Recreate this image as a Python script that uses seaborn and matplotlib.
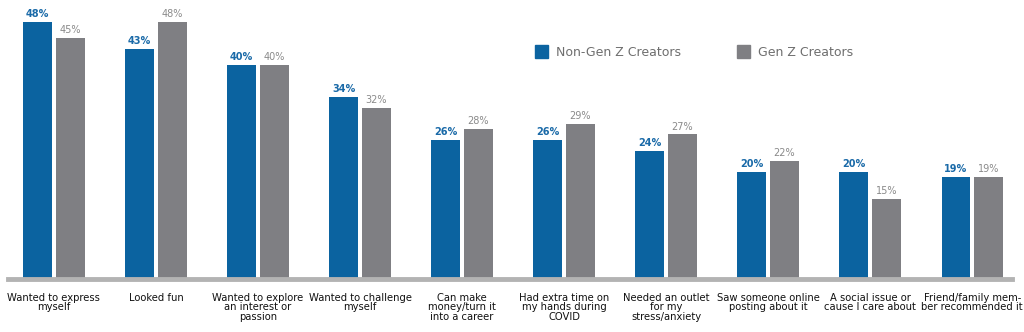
import matplotlib
matplotlib.use("Agg")
import matplotlib.pyplot as plt
import seaborn as sns
import pandas as pd
from matplotlib.patches import Rectangle

categories = [
    "Wanted to express\nmyself",
    "Looked fun",
    "Wanted to explore\nan interest or\npassion",
    "Wanted to challenge\nmyself",
    "Can make\nmoney/turn it\ninto a career",
    "Had extra time on\nmy hands during\nCOVID",
    "Needed an outlet\nfor my\nstress/anxiety",
    "Saw someone online\nposting about it",
    "A social issue or\ncause I care about",
    "Friend/family mem-\nber recommended it",
]
non_gen_z = [48, 43, 40, 34, 26, 26, 24, 20, 20, 19]
gen_z = [45, 48, 40, 32, 28, 29, 27, 22, 15, 19]
series = ["Non-Gen Z Creators", "Gen Z Creators"]

BLUE = "#0b63a0"
GRAY = "#7f7f83"

df = pd.DataFrame({
    "category": categories * 2,
    "value": non_gen_z + gen_z,
    "series": [series[0]] * len(categories) + [series[1]] * len(categories),
})

sns.set_theme(style="white")
plt.rcParams["font.family"] = ["DejaVu Sans"]

fig = plt.figure(figsize=(10.24, 3.32), dpi=100)
ax = fig.add_axes([8 / 1024, 1 - 279 / 332, (1012 - 8) / 1024, 279 / 332])

sns.barplot(data=df, x="category", y="value", hue="series", order=categories,
            hue_order=series, palette=[BLUE, GRAY], width=0.64, gap=0.12,
            saturation=1, legend=False, linewidth=0, ax=ax)

ax.set_xlim(-0.45, 9.39)
ax.set_ylim(0, 48 * 279 / 257)
ax.set_xlabel("")
ax.set_ylabel("")
ax.set_yticks([])
for s in ["top", "right", "left"]:
    ax.spines[s].set_visible(False)
ax.spines["bottom"].set_color("#b3b3b3")
ax.spines["bottom"].set_linewidth(3.5)
ax.tick_params(axis="x", length=0, pad=10, labelsize=7.2, labelcolor="#111111")
for lab in ax.get_xticklabels():
    lab.set_verticalalignment("top")
    lab.set_linespacing(0.95)

containers = ax.containers
ax.bar_label(containers[0], labels=[f"{v}%" for v in non_gen_z], padding=2,
             fontsize=7, color="#1a6aa8", fontweight="bold")
ax.bar_label(containers[1], labels=[f"{v}%" for v in gen_z], padding=2,
             fontsize=7, color="#8a8a8a")

# legend
leg_items = [(535, series[0], BLUE), (737, series[1], GRAY)]
for x, name, col in leg_items:
    fig.patches.append(Rectangle((x / 1024, 1 - 58 / 332), 13 / 1024, 13 / 332,
                                 transform=fig.transFigure, color=col))
    fig.text((x + 21) / 1024, 1 - 52 / 332, name, fontsize=9, color="#6e6e6e",
             va="center", ha="left")

fig.savefig("out.png", dpi=100)
